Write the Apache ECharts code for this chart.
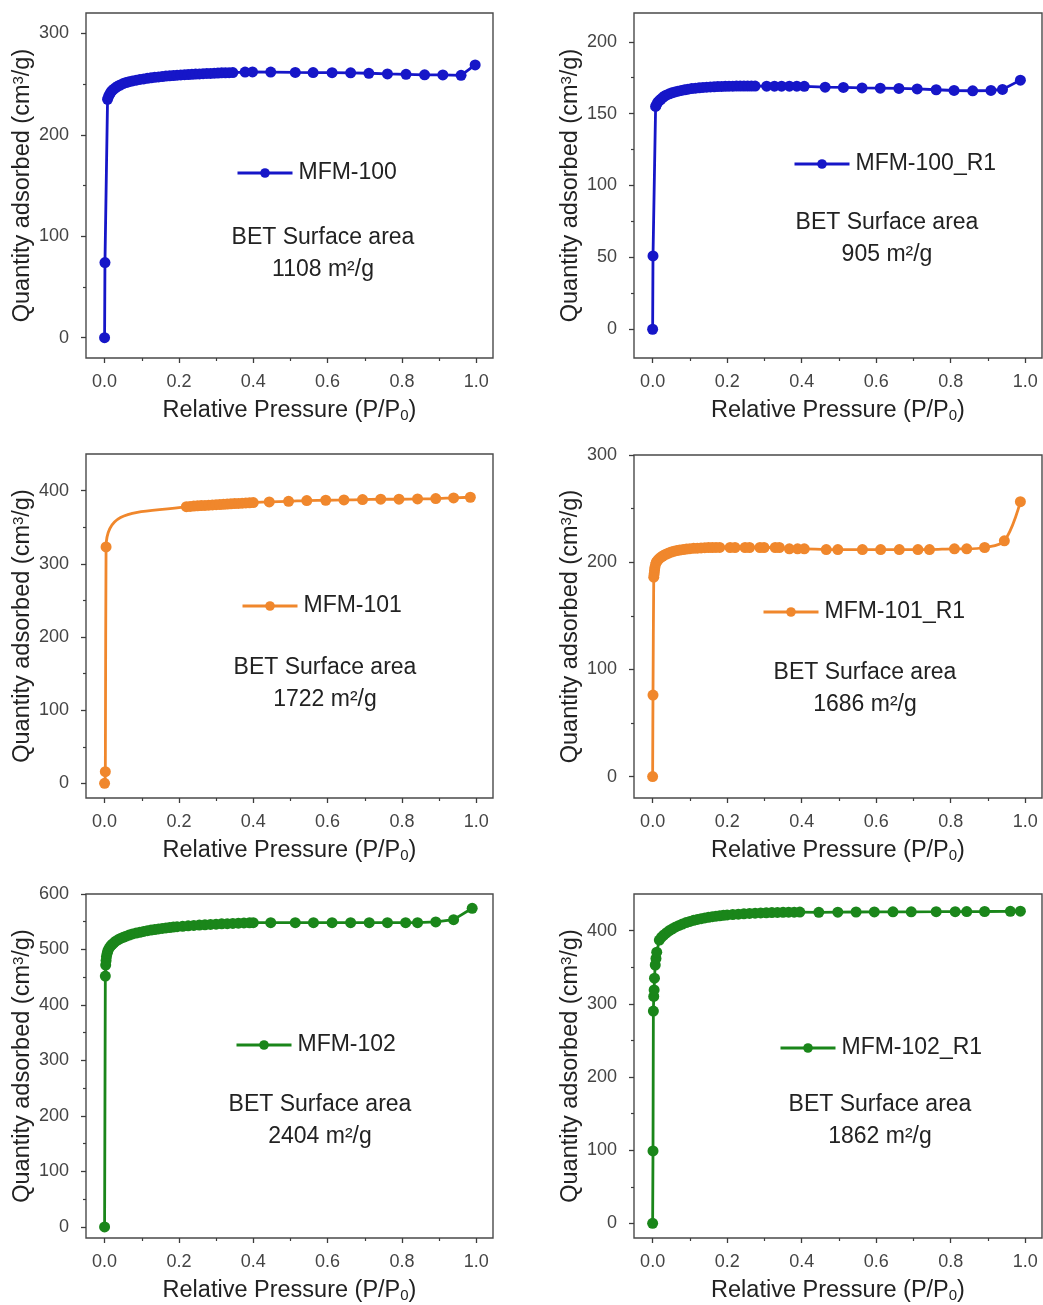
<!DOCTYPE html>
<html><head><meta charset="utf-8">
<script src="https://cdn.jsdelivr.net/npm/echarts@6/dist/echarts.min.js"></script>
<style>html,body{margin:0;padding:0;background:#fff}#c{width:1043px;height:1305px}</style>
</head><body><div id="c"></div>
<script>
// ---------- DATA ----------
const seriesNames = ['MFM-100', 'MFM-100_R1', 'MFM-101', 'MFM-101_R1', 'MFM-102', 'MFM-102_R1'];
const betValues = ['1108', '905', '1722', '1686', '2404', '1862'];

const xTickValues = [0, 0.2, 0.4, 0.6, 0.8, 1.0];
const xMinorValues = [0.1, 0.3, 0.5, 0.7, 0.9];

const yTicks100 = [0, 100, 200, 300];
const yMinor100 = [50, 150, 250];
const yTicks100R1 = [0, 50, 100, 150, 200];
const yMinor100R1 = [25, 75, 125, 175];
const yTicks101 = [0, 100, 200, 300, 400];
const yMinor101 = [50, 150, 250, 350];
const yTicks101R1 = [0, 100, 200, 300];
const yMinor101R1 = [50, 150, 250];
const yTicks102 = [0, 100, 200, 300, 400, 500, 600];
const yMinor102 = [50, 150, 250, 350, 450, 550];
const yTicks102R1 = [0, 100, 200, 300, 400];
const yMinor102R1 = [50, 150, 250, 350];

const mfm100X = [0, 0.001, 0.008, 0.011, 0.014, 0.017, 0.02, 0.025, 0.03, 0.036, 0.042, 0.05, 0.058, 0.066, 0.075, 0.085, 0.095, 0.105, 0.115, 0.125, 0.135, 0.145, 0.155, 0.165, 0.175, 0.185, 0.195, 0.205, 0.215, 0.225, 0.235, 0.245, 0.255, 0.265, 0.275, 0.285, 0.295, 0.305, 0.315, 0.325, 0.335, 0.345, 0.378, 0.398, 0.447, 0.513, 0.561, 0.612, 0.662, 0.711, 0.761, 0.811, 0.861, 0.91, 0.959, 0.997];
const mfm100Y = [0, 74, 235, 238, 240, 242, 243.5, 245, 246.5, 248, 249, 250.5, 251.5, 252.3, 253, 253.8, 254.5, 255, 255.6, 256.1, 256.6, 257, 257.4, 257.8, 258.1, 258.4, 258.7, 259, 259.2, 259.4, 259.6, 259.8, 260, 260.2, 260.4, 260.5, 260.7, 260.8, 261, 261.1, 261.2, 261.3, 261.8, 261.9, 261.8, 261.4, 261.3, 261.2, 261, 260.6, 260, 259.6, 259.1, 259, 258.6, 268.8];

const mfm100R1X = [0, 0.001, 0.008, 0.011, 0.014, 0.018, 0.022, 0.027, 0.032, 0.038, 0.045, 0.052, 0.06, 0.068, 0.077, 0.086, 0.095, 0.105, 0.115, 0.125, 0.135, 0.145, 0.155, 0.165, 0.175, 0.185, 0.195, 0.205, 0.215, 0.225, 0.235, 0.245, 0.255, 0.265, 0.275, 0.306, 0.327, 0.346, 0.367, 0.387, 0.407, 0.463, 0.512, 0.562, 0.611, 0.661, 0.71, 0.761, 0.809, 0.859, 0.908, 0.939, 0.987];
const mfm100R1Y = [0, 51, 155, 156.5, 158, 159, 160, 161.2, 162.2, 163, 163.8, 164.5, 165.1, 165.6, 166.1, 166.6, 167, 167.4, 167.7, 168, 168.2, 168.4, 168.6, 168.7, 168.8, 168.9, 169, 169.1, 169.1, 169.2, 169.2, 169.2, 169.2, 169.2, 169.2, 169.1, 169.1, 169.1, 169.1, 169.1, 169, 168.4, 168.2, 167.9, 167.7, 167.5, 167.2, 166.6, 166.1, 165.9, 166.1, 166.8, 173.3];

const mfm101X = [0, 0.002, 0.004, 0.22, 0.23, 0.24, 0.25, 0.26, 0.27, 0.28, 0.29, 0.30, 0.31, 0.32, 0.33, 0.34, 0.35, 0.36, 0.37, 0.38, 0.39, 0.40, 0.443, 0.495, 0.544, 0.595, 0.644, 0.694, 0.743, 0.792, 0.842, 0.891, 0.939, 0.984];
const mfm101Y = [0, 16, 323, 378, 378.4, 378.8, 379.2, 379.5, 379.8, 380.1, 380.4, 380.7, 381, 381.3, 381.6, 381.9, 382.2, 382.5, 382.8, 383.1, 383.4, 383.7, 384.5, 385.4, 386.3, 386.8, 387.2, 387.7, 388.2, 388.2, 388.6, 389.1, 390, 390.9];

const mfm101R1X = [0, 0.001, 0.003, 0.004, 0.005, 0.006, 0.008, 0.01, 0.013, 0.017, 0.021, 0.026, 0.031, 0.037, 0.043, 0.05, 0.057, 0.065, 0.073, 0.082, 0.091, 0.1, 0.11, 0.12, 0.13, 0.14, 0.15, 0.16, 0.17, 0.18, 0.208, 0.221, 0.248, 0.26, 0.288, 0.299, 0.329, 0.34, 0.367, 0.389, 0.407, 0.466, 0.497, 0.563, 0.612, 0.662, 0.712, 0.743, 0.81, 0.843, 0.891, 0.944, 0.987];
const mfm101R1Y = [0, 76, 186, 189, 192, 195, 198, 200, 201.5, 203, 204.3, 205.5, 206.6, 207.6, 208.5, 209.4, 210.1, 210.8, 211.3, 211.8, 212.2, 212.6, 212.9, 213.1, 213.3, 213.5, 213.6, 213.7, 213.8, 213.8, 213.7, 213.7, 213.7, 213.7, 213.7, 213.7, 213.7, 213.7, 212.5, 212.5, 212.5, 211.8, 211.8, 211.8, 211.8, 211.8, 211.8, 211.8, 212.5, 212.5, 213.7, 219.9, 256.4];

const mfm102X = [0, 0.002, 0.003, 0.004, 0.005, 0.007, 0.009, 0.012, 0.016, 0.02, 0.025, 0.03, 0.036, 0.043, 0.05, 0.058, 0.066, 0.075, 0.085, 0.095, 0.105, 0.115, 0.125, 0.135, 0.145, 0.155, 0.165, 0.175, 0.185, 0.195, 0.21, 0.225, 0.24, 0.255, 0.27, 0.285, 0.3, 0.315, 0.33, 0.345, 0.36, 0.375, 0.39, 0.4, 0.447, 0.513, 0.562, 0.612, 0.662, 0.712, 0.761, 0.81, 0.842, 0.891, 0.939, 0.989];
const mfm102Y = [0, 452, 472, 480, 487, 493, 498, 502, 506, 509, 512, 515, 517.5, 520, 522, 524, 526, 528, 529.5, 531, 532.5, 533.8, 535, 536, 537, 538, 538.8, 539.6, 540.3, 541, 541.8, 542.6, 543.3, 544, 544.6, 545.2, 545.7, 546.2, 546.6, 547, 547.4, 547.8, 548.1, 548.3, 548.4, 548.4, 548.4, 548.4, 548.4, 548.4, 548.4, 548.4, 548.4, 549.6, 553.8, 574.2];

const mfm102R1X = [0, 0.001, 0.002, 0.003, 0.004, 0.005, 0.007, 0.009, 0.011, 0.018, 0.024, 0.03, 0.037, 0.045, 0.053, 0.062, 0.071, 0.08, 0.09, 0.1, 0.11, 0.12, 0.13, 0.14, 0.15, 0.16, 0.17, 0.18, 0.19, 0.2, 0.215, 0.23, 0.245, 0.26, 0.275, 0.29, 0.305, 0.32, 0.335, 0.35, 0.365, 0.38, 0.395, 0.446, 0.497, 0.546, 0.595, 0.645, 0.694, 0.761, 0.812, 0.843, 0.891, 0.96, 0.987];
const mfm102R1Y = [0, 99, 290, 310, 319, 335, 353, 362, 370.5, 387, 391, 394, 397, 400, 402.5, 405, 407, 409, 411, 412.5, 414, 415.2, 416.3, 417.3, 418.2, 419, 419.7, 420.3, 420.9, 421.4, 422, 422.5, 423, 423.4, 423.8, 424.1, 424.4, 424.6, 424.8, 425, 425.1, 425.2, 425.3, 425, 425.2, 425.4, 425.5, 425.6, 425.7, 425.8, 425.9, 426, 426.1, 426.3, 426.5];

// ---------- LAYOUT / STYLE ----------
const FONT = '"Liberation Sans", Arial, Helvetica, sans-serif';
const BLUE = '#1616c8', ORANGE = '#f0872c', GREEN = '#1a861a';
const panels = [
  { x: mfm100X, y: mfm100Y, ticks: yTicks100, minor: yMinor100, yMin: -20, yMax: 320, color: BLUE, smooth: false,
    grid: { left: 86, top: 13, width: 407, height: 345 }, legend: [236, 173], bet: [323, 254] },
  { x: mfm100R1X, y: mfm100R1Y, ticks: yTicks100R1, minor: yMinor100R1, yMin: -20, yMax: 220, color: BLUE, smooth: false,
    grid: { left: 634, top: 13, width: 408, height: 345 }, legend: [793, 164], bet: [887, 239] },
  { x: mfm101X, y: mfm101Y, ticks: yTicks101, minor: yMinor101, yMin: -20, yMax: 450, color: ORANGE, smooth: 0.6,
    grid: { left: 86, top: 454, width: 407, height: 344 }, legend: [241, 606], bet: [325, 684] },
  { x: mfm101R1X, y: mfm101R1Y, ticks: yTicks101R1, minor: yMinor101R1, yMin: -20, yMax: 300, color: ORANGE, smooth: 0.35,
    grid: { left: 634, top: 455, width: 408, height: 343 }, legend: [762, 612], bet: [865, 689] },
  { x: mfm102X, y: mfm102Y, ticks: yTicks102, minor: yMinor102, yMin: -20, yMax: 600, color: GREEN, smooth: false,
    grid: { left: 86, top: 894, width: 407, height: 344 }, legend: [235, 1045], bet: [320, 1121] },
  { x: mfm102R1X, y: mfm102R1Y, ticks: yTicks102R1, minor: yMinor102R1, yMin: -20, yMax: 450, color: GREEN, smooth: false,
    grid: { left: 634, top: 894, width: 408, height: 344 }, legend: [779, 1048], bet: [880, 1121] }
];

const AX = '#3c3c3c';
const grids = [], xAxes = [], yAxes = [], series = [], legends = [], graphics = [];
panels.forEach((p, i) => {
  grids.push(Object.assign({ show: true, borderColor: '#4a4a4a', borderWidth: 1.4, backgroundColor: 'transparent', containLabel: false, outerBoundsMode: 'none' }, p.grid));
  const xCommon = { type: 'value', gridIndex: i, min: -0.05, max: 1.045, position: 'bottom', splitLine: { show: false } };
  xAxes.push(Object.assign({}, xCommon, {
    axisLine: { show: false, onZero: false },
    axisTick: { show: true, inside: false, length: 5, customValues: xTickValues, lineStyle: { color: AX, width: 1.3 } },
    axisLabel: { customValues: xTickValues, margin: 15, fontSize: 18, color: '#444', fontFamily: FONT, formatter: v => v.toFixed(1) },
    name: 'Relative Pressure (P/P{sub|0})', nameLocation: 'middle', nameGap: 41,
    nameTextStyle: { fontSize: 23.5, color: '#222', fontFamily: FONT, rich: { sub: { fontSize: 15, lineHeight: 8, verticalAlign: 'bottom', fontFamily: FONT, color: '#222' } } }
  }));
  xAxes.push(Object.assign({}, xCommon, {
    axisLine: { show: false, onZero: false },
    axisTick: { show: true, inside: false, length: 3, customValues: xMinorValues, lineStyle: { color: AX, width: 1.2 } },
    axisLabel: { show: false }
  }));
  const yCommon = { type: 'value', gridIndex: i, min: p.yMin, max: p.yMax, position: 'left', splitLine: { show: false } };
  yAxes.push(Object.assign({}, yCommon, {
    axisLine: { show: false, onZero: false },
    axisTick: { show: true, inside: false, length: 5, customValues: p.ticks, lineStyle: { color: AX, width: 1.3 } },
    axisLabel: { customValues: p.ticks, margin: 17, fontSize: 18, color: '#444', fontFamily: FONT },
    name: 'Quantity adsorbed (cm{sup|3}/g)', nameLocation: 'middle', nameGap: 51, nameRotate: 90,
    nameTextStyle: { fontSize: 23.5, color: '#222', fontFamily: FONT, rich: { sup: { fontSize: 15, lineHeight: 8, verticalAlign: 'top', fontFamily: FONT, color: '#222' } } }
  }));
  yAxes.push(Object.assign({}, yCommon, {
    axisLine: { show: false, onZero: false },
    axisTick: { show: true, inside: false, length: 3, customValues: p.minor, lineStyle: { color: AX, width: 1.2 } },
    axisLabel: { show: false }
  }));
  series.push({
    name: seriesNames[i], type: 'line', xAxisIndex: 2 * i, yAxisIndex: 2 * i,
    data: p.x.map((v, k) => [v, p.y[k]]),
    symbol: 'circle', symbolSize: 11, showAllSymbol: true, smooth: p.smooth,
    lineStyle: { color: p.color, width: 2.8 }, itemStyle: { color: p.color },
    emphasis: { disabled: true }, animation: false, clip: false
  });
  legends.push({
    data: [seriesNames[i]], left: p.legend[0], top: p.legend[1] - 13, padding: 0, itemGap: 0,
    itemWidth: 55, itemHeight: 12, selectedMode: false,
    lineStyle: { width: 3 },
    textStyle: { fontSize: 23, color: '#222', fontFamily: FONT, lineHeight: 26, padding: [0, 0, 0, 1] }
  });
  graphics.push({
    type: 'text', x: p.bet[0], y: p.bet[1],
    style: {
      text: 'BET Surface area\n' + betValues[i] + ' m²/g',
      fontSize: 23, fontFamily: FONT, fill: '#222', textAlign: 'center', textVerticalAlign: 'middle', lineHeight: 32
    }
  });
});

const chart = echarts.init(document.getElementById('c'), null, { renderer: 'canvas' });
chart.setOption({
  animation: false,
  backgroundColor: '#fff',
  grid: grids, xAxis: xAxes, yAxis: yAxes, series: series, legend: legends,
  graphic: graphics
});
</script>
</body></html>
